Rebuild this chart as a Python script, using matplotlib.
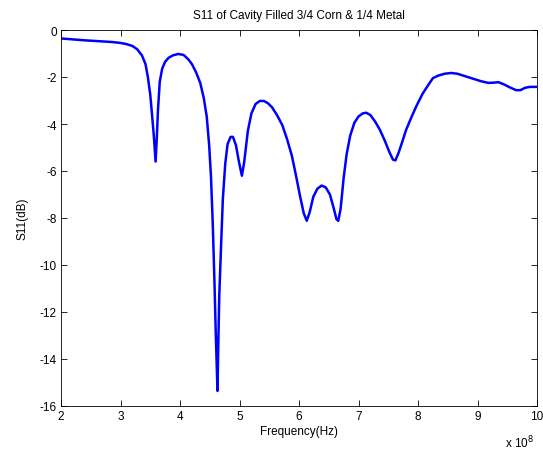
import matplotlib
matplotlib.use("Agg")
import matplotlib.pyplot as plt

plt.rcParams['font.family'] = ['Liberation Sans', 'DejaVu Sans']

freq_e8 = [2.00, 2.20, 2.40, 2.66, 2.85, 3.00, 3.10, 3.20, 3.28, 3.36, 3.42, 3.46, 3.50,
           3.53, 3.56, 3.59, 3.61, 3.63, 3.66, 3.70, 3.75, 3.81, 3.88, 3.97, 4.06,
           4.14, 4.20, 4.27, 4.34, 4.40, 4.45, 4.49, 4.52, 4.55, 4.58, 4.60, 4.62,
           4.63, 4.645, 4.66, 4.69, 4.72, 4.76, 4.80, 4.85, 4.89, 4.94, 4.99, 5.04,
           5.08, 5.14, 5.20, 5.27, 5.34, 5.41, 5.48, 5.55, 5.63, 5.72, 5.80, 5.88,
           5.95, 6.02, 6.08, 6.13, 6.18, 6.24, 6.31, 6.38, 6.45, 6.52, 6.58, 6.63,
           6.66, 6.70, 6.75, 6.80, 6.86, 6.93, 7.00, 7.07, 7.13, 7.20, 7.28, 7.36,
           7.44, 7.52, 7.58, 7.62, 7.67, 7.73, 7.80, 7.90, 7.98, 8.08, 8.17, 8.25,
           8.34, 8.45, 8.56, 8.66, 8.76, 8.86, 8.96, 9.06, 9.18, 9.28, 9.35, 9.45,
           9.55, 9.65, 9.72, 9.80, 9.88, 9.95, 10.00]
s11_db = [-0.36, -0.40, -0.44, -0.48, -0.51, -0.55, -0.60, -0.68, -0.82, -1.08, -1.45, -2.00, -2.75,
          -3.60, -4.50, -5.60, -4.60, -3.40, -2.20, -1.65, -1.35, -1.18, -1.08, -1.02, -1.06,
          -1.25, -1.45, -1.80, -2.25, -2.90, -3.70, -4.90, -6.20, -8.20, -10.8, -12.8, -14.5,
          -15.36, -13.2, -11.3, -9.2, -7.2, -5.7, -4.85, -4.55, -4.55, -4.90, -5.60, -6.20,
          -5.60, -4.30, -3.55, -3.15, -3.02, -3.02, -3.12, -3.30, -3.62, -4.05, -4.65, -5.35,
          -6.20, -7.10, -7.80, -8.12, -7.75, -7.10, -6.75, -6.62, -6.70, -7.00, -7.55, -8.05,
          -8.12, -7.60, -6.30, -5.30, -4.50, -3.95, -3.68, -3.55, -3.52, -3.62, -3.90, -4.25,
          -4.70, -5.20, -5.52, -5.55, -5.25, -4.80, -4.25, -3.65, -3.20, -2.70, -2.35, -2.05,
          -1.94, -1.86, -1.83, -1.86, -1.94, -2.02, -2.10, -2.18, -2.25, -2.24, -2.22, -2.32,
          -2.45, -2.56, -2.56, -2.46, -2.42, -2.42, -2.42]

x_ticks = [2, 3, 4, 5, 6, 7, 8, 9, 10]
y_ticks = [0, -2, -4, -6, -8, -10, -12, -14, -16]

fig = plt.figure(figsize=(5.43, 4.52), dpi=100)
ax = fig.add_axes([61/543, 1-407/452, (537-61)/543, (407-31)/452])
ax.plot(freq_e8, s11_db, color='#0000ff', lw=1.8)
ax.set_xlim(2, 10)
ax.set_ylim(-16, 0)
ax.set_xticks(x_ticks)
ax.set_yticks(y_ticks)
ax.set_xticklabels([str(t) for t in x_ticks])
ax.set_yticklabels([str(t) for t in y_ticks])
ax.tick_params(direction='in', top=True, right=True, labelsize=8.5, length=4, width=0.6, pad=3)
for s in ax.spines.values():
    s.set_linewidth(0.6)
ax.set_title('S11 of Cavity Filled 3/4 Corn & 1/4 Metal', fontsize=8.5, pad=9)
ax.set_xlabel('Frequency(Hz)', fontsize=8.5, labelpad=2)
ax.set_ylabel('S11(dB)', fontsize=8.5, labelpad=8)
fig.text(505/543, 1-443/452, r'x 10$^{8}$', fontsize=8.5, va='center', ha='left')
fig.savefig('out.png', dpi=100, facecolor='white')
